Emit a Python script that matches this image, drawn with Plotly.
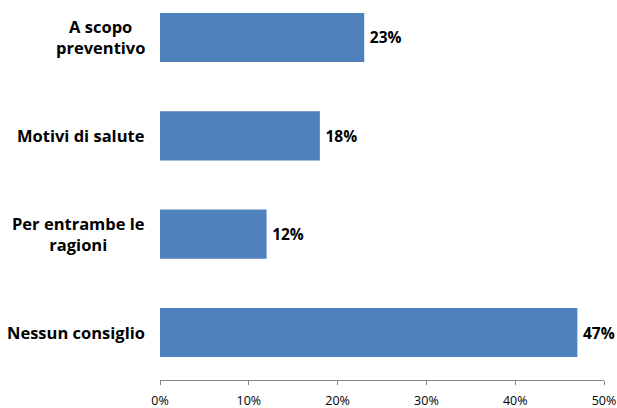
import plotly.graph_objects as go

categories = ["A scopo<br>preventivo", "Motivi di salute", "Per entrambe le<br>ragioni", "Nessun consiglio"]
values = [23, 18, 12, 47]
tick_vals = [0, 10, 20, 30, 40, 50]
tick_text = ["0%", "10%", "20%", "30%", "40%", "50%"]

positions = list(range(len(categories)))

fig = go.Figure()
fig.add_trace(go.Bar(
    x=values,
    y=positions,
    orientation="h",
    width=0.5,
    marker=dict(color="#4F81BD", line=dict(width=0)),
    text=[f"\u2009{v}%" for v in values],
    textposition="outside",
    textfont=dict(family="Open Sans", size=15.5, color="#000000", weight="bold"),
    cliponaxis=False,
    hoverinfo="skip",
))

for p, c in zip(positions, categories):
    fig.add_annotation(
        x=0, xref="paper", xshift=-13,
        y=p, yref="y",
        text=c, showarrow=False,
        xanchor="right", yanchor="middle", align="center",
        font=dict(family="Open Sans", size=16.5, color="#000000", weight="bold"),
    )

fig.update_layout(
    width=617, height=408,
    margin=dict(l=160, r=13, t=0, b=28, autoexpand=False),
    paper_bgcolor="white", plot_bgcolor="white",
    showlegend=False,
    font=dict(family="Open Sans", color="#000000"),
)
fig.update_xaxes(
    range=[0, 50], tickvals=tick_vals, ticktext=tick_text,
    showgrid=False, zeroline=False, automargin=False,
    showline=True, linecolor="#868686", linewidth=1,
    ticks="outside", ticklen=4, tickcolor="#868686",
    ticklabelstandoff=5,
    tickfont=dict(family="Open Sans", size=12.5, color="#000000"),
)
fig.update_yaxes(
    range=[3.483, -0.381], showticklabels=False, automargin=False,
    showgrid=False, zeroline=False, showline=False, ticks="",
)

fig.write_html(
    "out.html",
    config={"displayModeBar": False},
    post_script="document.body.style.margin='0';document.body.style.padding='0';",
)
